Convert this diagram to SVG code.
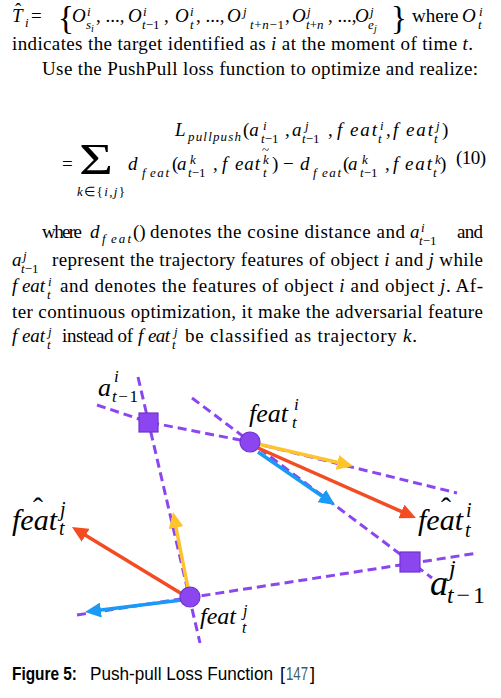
<svg xmlns="http://www.w3.org/2000/svg" width="501" height="698" viewBox="0 0 501 698">
<style>
text{font-family:"Liberation Serif","Times New Roman",serif;fill:#000}
.t{font-size:19px}
.i{font-style:italic}
.sm{font-size:13px}
.xs{font-size:10px}
.dash{fill:none;stroke:#8c46f0;stroke-width:3;stroke-dasharray:9 5}
.node{fill:#8c46f0;stroke:#6f33cf;stroke-width:1.2}
.arr{fill:none;stroke-width:3.5}
.lb{font-style:italic}
.cap{font-family:"Liberation Sans",Arial,sans-serif;font-size:18px}
</style>
<defs>
<marker id="hy" viewBox="0 0 16 15" refX="4" refY="7.5" markerWidth="16" markerHeight="15" markerUnits="userSpaceOnUse" orient="auto"><path d="M0,0 L16,7.5 L0,15 z" fill="#fec42d"/></marker>
<marker id="hr" viewBox="0 0 16 15" refX="4" refY="7.5" markerWidth="16" markerHeight="15" markerUnits="userSpaceOnUse" orient="auto"><path d="M0,0 L16,7.5 L0,15 z" fill="#f34c22"/></marker>
<marker id="hb" viewBox="0 0 16 15" refX="4" refY="7.5" markerWidth="16" markerHeight="15" markerUnits="userSpaceOnUse" orient="auto"><path d="M0,0 L16,7.5 L0,15 z" fill="#1a9af5"/></marker>
</defs>
<rect width="501" height="698" fill="#fff"/>

<g id="text-top">
<text class="t i" x="12" y="22">T</text>
<text class="t" x="15" y="16">ˆ</text>
<text class="t i sm" x="25" y="27">i</text>
<text class="t" x="31" y="22">=</text>
<text class="t" x="58" y="29" style="font-size:33px">{</text>
<text class="t i" x="72" y="22">O</text>
<text class="t i sm" x="87" y="16">i</text>
<text class="t i sm" x="86" y="29">s</text>
<text class="t i xs" x="91" y="32">i</text>
<text class="t" x="96" y="22">, ..., </text>
<text class="t i" x="128" y="22">O</text>
<text class="t i sm" x="143" y="16">i</text>
<text class="t sm" x="142" y="29"><tspan class="i">t</tspan>−1</text>
<text class="t" x="164" y="22">,</text>
<text class="t i" x="175" y="22">O</text>
<text class="t i sm" x="190" y="16">i</text>
<text class="t i sm" x="190" y="29">t</text>
<text class="t" x="196" y="22">, ..., </text>
<text class="t i" x="227" y="22">O</text>
<text class="t i sm" x="243" y="16">j</text>
<text class="t sm" x="250" y="29" textLength="34"><tspan class="i">t</tspan>+<tspan class="i">n</tspan>−1</text>
<text class="t" x="285" y="22">,</text>
<text class="t i" x="292" y="22">O</text>
<text class="t i sm" x="307" y="16">j</text>
<text class="t sm" x="306" y="29"><tspan class="i">t</tspan>+<tspan class="i">n</tspan></text>
<text class="t" x="328" y="22">, ..., </text>
<text class="t i" x="355" y="22">O</text>
<text class="t i sm" x="370" y="16">j</text>
<text class="t i sm" x="368" y="29">e</text>
<text class="t i xs" x="374" y="32">j</text>
<text class="t" x="391" y="29" style="font-size:33px">}</text>
<text class="t" x="412" y="22">where</text>
<text class="t i" x="462" y="22">O</text>
<text class="t i sm" x="479" y="16">i</text>
<text class="t i sm" x="478" y="29">t</text>
<text class="t" x="12" y="50" textLength="461" lengthAdjust="spacing">indicates the target identified as <tspan class="i">i</tspan> at the moment of time <tspan class="i">t</tspan>.</text>
<text class="t" x="42" y="75" textLength="436" lengthAdjust="spacing">Use the PushPull loss function to optimize and realize:</text>
</g>

<g id="equation">
<text class="t i" x="175" y="136">L</text>
<text class="t i sm" x="188" y="141" textLength="53" lengthAdjust="spacing">pullpush</text>
<text class="t" x="243" y="136">(<tspan class="i">a</tspan></text>
<text class="t i sm" x="263" y="130">i</text>
<text class="t sm" x="261" y="143"><tspan class="i">t</tspan>−1</text>
<text class="t" x="285" y="136">,</text>
<text class="t i" x="292" y="136">a</text>
<text class="t i sm" x="305" y="130">j</text>
<text class="t sm" x="302" y="143"><tspan class="i">t</tspan>−1</text>
<text class="t" x="328" y="136">,</text>
<text class="t i" x="337" y="136">f</text>
<text class="t i" x="350" y="136" textLength="27" lengthAdjust="spacing">eat</text>
<text class="t i sm" x="380" y="130">i</text>
<text class="t i sm" x="378" y="143">t</text>
<text class="t" x="386" y="136">,</text>
<text class="t i" x="393" y="136">f</text>
<text class="t i" x="406" y="136" textLength="27" lengthAdjust="spacing">eat</text>
<text class="t i sm" x="436" y="130">j</text>
<text class="t i sm" x="434" y="143">t</text>
<text class="t" x="442" y="136">)</text>

<text class="t" x="62" y="170">=</text>
<text class="t" x="79" y="174" style="font-size:44px" textLength="34" lengthAdjust="spacingAndGlyphs">Σ</text>
<text class="t sm" x="77" y="196" textLength="48" lengthAdjust="spacing"><tspan class="i">k</tspan>∈{<tspan class="i">i</tspan>,<tspan class="i">j</tspan>}</text>
<text class="t i" x="128" y="170">d</text>
<text class="t i sm" x="142" y="177">f</text>
<text class="t i sm" x="150" y="177" textLength="19" lengthAdjust="spacing">eat</text>
<text class="t" x="172" y="170">(</text>
<text class="t i" x="177" y="170">a</text>
<text class="t i sm" x="190" y="164">k</text>
<text class="t sm" x="188" y="177"><tspan class="i">t</tspan>−1</text>
<text class="t" x="213" y="170">,</text>
<text class="t i" x="222" y="170">f</text>
<text class="t i" x="235" y="170" textLength="25" lengthAdjust="spacing">eat</text>
<text class="t i sm" x="263" y="164">k</text>
<text class="t sm" x="262" y="154">~</text>
<text class="t i sm" x="263" y="177">t</text>
<text class="t" x="272" y="170">)</text>
<text class="t" x="283" y="170">−</text>
<text class="t i" x="300" y="170">d</text>
<text class="t i sm" x="313" y="177">f</text>
<text class="t i sm" x="322" y="177" textLength="19" lengthAdjust="spacing">eat</text>
<text class="t" x="343" y="170">(</text>
<text class="t i" x="348" y="170">a</text>
<text class="t i sm" x="362" y="164">k</text>
<text class="t sm" x="360" y="177"><tspan class="i">t</tspan>−1</text>
<text class="t" x="385" y="170">,</text>
<text class="t i" x="393" y="170">f</text>
<text class="t i" x="405" y="170" textLength="27" lengthAdjust="spacing">eat</text>
<text class="t i sm" x="435" y="164">k</text>
<text class="t i sm" x="433" y="177">t</text>
<text class="t" x="440" y="170">)</text>
<text class="t" x="456" y="164" textLength="30" lengthAdjust="spacing">(10)</text>
</g>

<g id="paragraph">
<text class="t" x="42" y="238" textLength="40" lengthAdjust="spacing">where</text>
<text class="t i" x="90" y="238">d</text>
<text class="t i sm" x="102" y="243">f</text>
<text class="t i sm" x="111" y="243" textLength="20" lengthAdjust="spacing">eat</text>
<text class="t" x="133" y="238">()</text>
<text class="t" x="150" y="238" textLength="255" lengthAdjust="spacing">denotes the cosine distance and</text>
<text class="t i" x="410" y="238">a</text>
<text class="t i sm" x="421" y="232">i</text>
<text class="t sm" x="419" y="245"><tspan class="i">t</tspan>−1</text>
<text class="t" x="457" y="238" textLength="26" lengthAdjust="spacing">and</text>

<text class="t i" x="12" y="266">a</text>
<text class="t i sm" x="23" y="260">j</text>
<text class="t sm" x="21" y="273"><tspan class="i">t</tspan>−1</text>
<text class="t" x="52" y="266" textLength="431" lengthAdjust="spacing">represent the trajectory features of object <tspan class="i">i</tspan> and <tspan class="i">j</tspan> while</text>

<text class="t i" x="12" y="292">f</text>
<text class="t i" x="22" y="292" textLength="23" lengthAdjust="spacing">eat</text>
<text class="t i sm" x="48" y="286">i</text>
<text class="t i sm" x="47" y="299">t</text>
<text class="t" x="60" y="292" textLength="423" lengthAdjust="spacing">and denotes the features of object <tspan class="i">i</tspan> and object <tspan class="i">j</tspan>. Af-</text>

<text class="t" x="12" y="318" textLength="471" lengthAdjust="spacing">ter continuous optimization, it make the adversarial feature</text>

<text class="t i" x="12" y="342">f</text>
<text class="t i" x="22" y="342" textLength="23" lengthAdjust="spacing">eat</text>
<text class="t i sm" x="48" y="336">j</text>
<text class="t i sm" x="47" y="349">t</text>
<text class="t" x="62" y="342" textLength="71" lengthAdjust="spacing">instead of</text>
<text class="t i" x="138" y="342">f</text>
<text class="t i" x="148" y="342" textLength="22" lengthAdjust="spacing">eat</text>
<text class="t i sm" x="174" y="336">j</text>
<text class="t i sm" x="172" y="349">t</text>
<text class="t" x="185" y="342" textLength="232" lengthAdjust="spacing">be classified as trajectory <tspan class="i">k</tspan>.</text>
</g>

<g id="connectors">
<path class="dash" d="M138,377 L200,643"/>
<path class="dash" d="M97,405 L148,422 L250,442"/>
<path class="dash" d="M192,398 L432,578"/>
<path class="dash" d="M250,442 L457,493"/>
<path class="dash" d="M77,615 L478,553"/>
<path class="arr" stroke="#fec42d" d="M258,444 L341.3,463.3" marker-end="url(#hy)"/>
<path class="arr" stroke="#f34c22" d="M258,448 L405,513.1" marker-end="url(#hr)"/>
<path class="arr" stroke="#1a9af5" d="M258,452 L325.1,498.2" marker-end="url(#hb)"/>
<path class="arr" stroke="#fec42d" d="M188,588 L175.3,523.8" marker-end="url(#hy)"/>
<path class="arr" stroke="#f34c22" d="M182,594 L82.2,533.2" marker-end="url(#hr)"/>
<path class="arr" stroke="#1a9af5" d="M182,600 L96.9,610.5" marker-end="url(#hb)"/>
</g>

<g id="node-a-i">
<rect class="node" x="139" y="413" width="19" height="19"/>
<text class="lb" x="98" y="396" style="font-size:26px">a</text>
<text class="lb" x="114" y="382" style="font-size:17px">i</text>
<text x="112" y="402" style="font-size:17px" textLength="26" lengthAdjust="spacing"><tspan class="lb">t</tspan>−1</text>
</g>

<g id="node-feat-i">
<circle class="node" cx="250" cy="442" r="10"/>
<text class="lb" x="249" y="422" style="font-size:26px">feat</text>
<text class="lb" x="294" y="410" style="font-size:17px">i</text>
<text class="lb" x="292" y="428" style="font-size:17px">t</text>
</g>

<g id="node-feat-hat-i">
<text class="lb" x="418" y="530" style="font-size:30px">feat</text>
<text x="441" y="518" style="font-size:30px">ˆ</text>
<text class="lb" x="466" y="517" style="font-size:20px">i</text>
<text class="lb" x="465" y="537" style="font-size:20px">t</text>
</g>

<g id="node-a-j">
<rect class="node" x="400" y="552" width="20" height="20"/>
<text class="lb" x="430" y="595" style="font-size:36px">a</text>
<text class="lb" x="449" y="576" style="font-size:24px">j</text>
<text x="447" y="603" style="font-size:24px" textLength="38" lengthAdjust="spacing"><tspan class="lb">t</tspan>−1</text>
</g>

<g id="node-feat-j">
<circle class="node" cx="190" cy="597" r="10"/>
<text class="lb" x="200" y="624" style="font-size:24px">feat</text>
<text class="lb" x="243" y="616" style="font-size:16px">j</text>
<text class="lb" x="242" y="633" style="font-size:16px">t</text>
</g>

<g id="node-feat-hat-j">
<text class="lb" x="12" y="530" style="font-size:30px">feat</text>
<text x="33" y="518" style="font-size:30px">ˆ</text>
<text class="lb" x="60" y="516" style="font-size:20px">j</text>
<text class="lb" x="59" y="535" style="font-size:20px">t</text>
</g>

<g id="caption">
<text class="cap" x="12" y="680" font-weight="bold" textLength="65" lengthAdjust="spacingAndGlyphs">Figure 5:</text>
<text class="cap" x="90" y="680" textLength="183" lengthAdjust="spacingAndGlyphs">Push-pull Loss Function</text>
<text class="cap" x="280" y="680">[</text>
<text class="cap" x="286" y="680" style="fill:#3d5f6b" textLength="22" lengthAdjust="spacingAndGlyphs">147</text>
<text class="cap" x="310" y="680">]</text>
</g>
</svg>
